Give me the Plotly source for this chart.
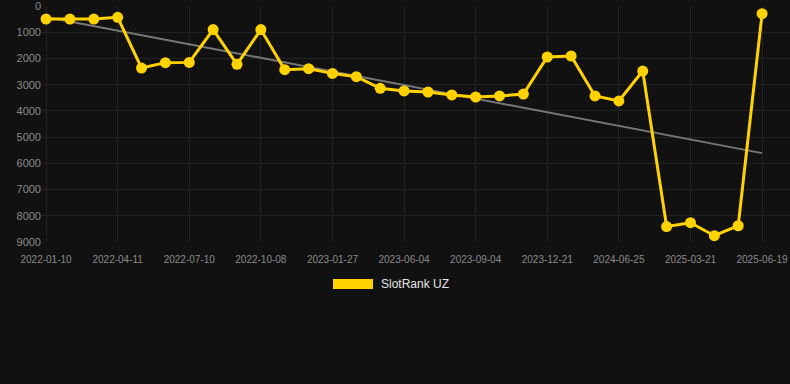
import numpy as np
import plotly.graph_objects as go

dates = [
    "2022-01-10", "2022-02-09", "2022-03-11", "2022-04-11", "2022-05-11", "2022-06-10",
    "2022-07-10", "2022-08-09", "2022-09-08", "2022-10-08", "2022-11-14", "2022-12-21",
    "2023-01-27", "2023-03-10", "2023-04-22", "2023-06-04", "2023-07-05", "2023-08-04",
    "2023-09-04", "2023-10-09", "2023-11-15", "2023-12-21", "2024-02-21", "2024-04-23",
    "2024-06-25", "2024-09-26", "2024-12-23", "2025-03-21", "2025-04-20", "2025-05-20",
    "2025-06-19",
]
ranks = [
    500, 500, 500, 430, 2365, 2160, 2150, 900, 2225, 900, 2430, 2390,
    2570, 2695, 3140, 3240, 3280, 3390, 3470, 3430, 3360, 1945, 1907, 3430,
    3620, 2480, 8410, 8265, 8760, 8380, 293,
]
tick_dates = dates[::3]
y_ticks = [0, 1000, 2000, 3000, 4000, 5000, 6000, 7000, 8000, 9000]
series_name = "SlotRank UZ"

idx = np.arange(len(ranks))
slope, intercept = np.polyfit(idx, ranks, 1)
trend = (slope * idx + intercept).tolist()

gold = "#FFD200"
bg = "#111111"
grid = "#222222"

fig = go.Figure()
fig.add_trace(go.Scatter(
    x=dates, y=trend, mode="lines",
    line=dict(color="#777777", width=2),
    showlegend=False, hoverinfo="skip",
))
fig.add_trace(go.Scatter(
    x=dates, y=ranks, mode="lines+markers", name=series_name,
    line=dict(color=gold, width=3),
    marker=dict(color=gold, size=11),
    showlegend=False, cliponaxis=False,
))

fig.update_layout(
    width=790, height=384,
    margin=dict(l=42, r=0, t=6, b=142),
    paper_bgcolor=bg, plot_bgcolor=bg,
    font=dict(family="Liberation Sans, Arial, sans-serif", color="#888888"),
    xaxis=dict(
        type="category", categoryorder="array", categoryarray=dates,
        range=[-0.17, len(dates) - 1 + 1.17],
        tickmode="array", tickvals=tick_dates, ticktext=tick_dates,
        tickfont=dict(size=10, color="#8a8a8a"),
        showgrid=True, gridcolor=grid, gridwidth=1,
        zeroline=False, showline=False,
        ticks="outside", ticklen=8, tickcolor=bg,
        ticklabeloverflow="allow",
    ),
    yaxis=dict(
        range=[9000.01, -0.01], tickmode="array", tickvals=y_ticks,
        ticktext=[str(v) for v in y_ticks],
        tickfont=dict(size=11, color="#8a8a8a"),
        showgrid=True, gridcolor=grid, gridwidth=1,
        zeroline=False, showline=False, ticks="", ticklen=0,
        ticklabeloverflow="allow",
    ),
    showlegend=False,
)

# legend drawn manually (rectangle swatch + text)
fig.add_shape(type="rect", xref="paper", yref="paper",
              x0=(333 - 42) / 748, x1=(373 - 42) / 748,
              y0=(242 - 289) / 236, y1=(242 - 279) / 236,
              fillcolor=gold, line=dict(width=0))
fig.add_annotation(xref="paper", yref="paper",
                   x=(379 - 42) / 748, y=(242 - 284) / 236,
                   xanchor="left", yanchor="middle", showarrow=False,
                   text=series_name, font=dict(size=12, color="#e6e6e6"))

fig.write_html("out.html")
